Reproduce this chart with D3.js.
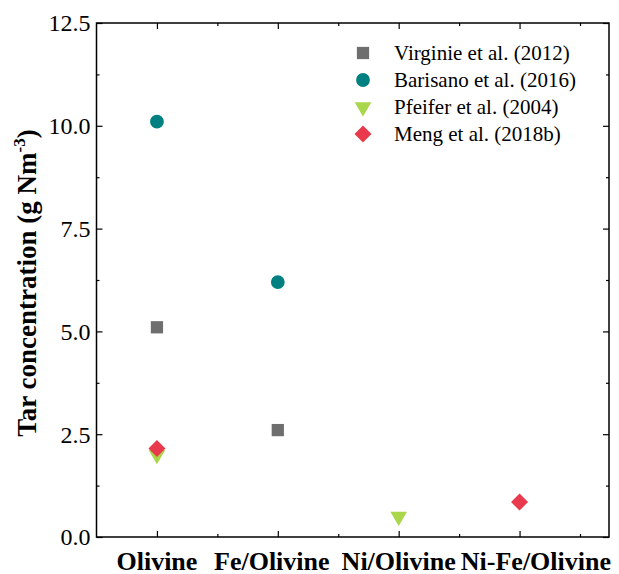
<!DOCTYPE html>
<html>
<head>
<meta charset="utf-8">
<script src="https://cdn.jsdelivr.net/npm/d3@7"></script>
<style>
  body { margin: 0; background: #fff; }
  svg { font-family: "Liberation Serif", "Times New Roman", serif; }
</style>
</head>
<body>
<svg id="chart" width="619" height="574"></svg>
<script>
// Catalysts along the x axis
const categories = ["Olivine", "Fe/Olivine", "Ni/Olivine", "Ni-Fe/Olivine"];

// Tar concentration (g Nm-3) by study; null where a catalyst was not tested
const virginie = [5.1, 2.6, null, null];
const barisano = [10.1, 6.2, null, null];
const pfeifer  = [2.0, null, 0.5, null];
const meng     = [2.15, null, null, 0.85];

const yTicks = [0, 2.5, 5.0, 7.5, 10.0, 12.5];

const series = [
  { name: "Virginie et al. (2012)", values: virginie, symbol: d3.symbolSquare, color: "#6e6e6e", size: 150, rotate: 0 },
  { name: "Barisano et al. (2016)", values: barisano, symbol: d3.symbolCircle, color: "#008080", size: 150, rotate: 0 },
  { name: "Pfeifer et al. (2004)",  values: pfeifer,  symbol: d3.symbolTriangle, color: "#a9d64a", size: 120, rotate: 180 },
  { name: "Meng et al. (2018b)",    values: meng,     symbol: d3.symbolSquare, color: "#e83a4c", size: 145, rotate: 45 }
];

const margin = { left: 96.5, right: 10, top: 23, bottom: 37 };
const W = 619, H = 574;
const svg = d3.select("#chart");

const x = d3.scaleLinear().domain([0.5, 4.74]).range([margin.left, W - margin.right]);
const y = d3.scaleLinear().domain([0, 12.5]).range([H - margin.bottom, margin.top]);

const g = svg.append("g");

// Plot frame
g.append("rect")
  .attr("x", x.range()[0]).attr("y", y.range()[1])
  .attr("width", x.range()[1] - x.range()[0])
  .attr("height", y.range()[0] - y.range()[1])
  .attr("fill", "none").attr("stroke", "#000").attr("stroke-width", 1.5);

const majorX = [1, 2, 3, 4];
const minorX = [1.5, 2.5, 3.5, 4.5];
const minorY = [1.25, 3.75, 6.25, 8.75, 11.25];

// Inward ticks on all four sides
function ticks(axisGen, transform, values, size) {
  const a = g.append("g").attr("transform", transform)
    .call(axisGen.tickValues(values).tickSize(size).tickFormat(""));
  a.select(".domain").remove();
  a.selectAll("line").attr("stroke", "#000").attr("stroke-width", 1.2);
  return a;
}
const bottomY = y(0), topY = y(12.5), leftX = x(0.5), rightX = x.range()[1];
ticks(d3.axisTop(x), `translate(0,${bottomY})`, majorX, 6);
ticks(d3.axisTop(x), `translate(0,${bottomY})`, minorX, 3);
ticks(d3.axisBottom(x), `translate(0,${topY})`, majorX, 6);
ticks(d3.axisBottom(x), `translate(0,${topY})`, minorX, 3);
ticks(d3.axisRight(y), `translate(${leftX},0)`, yTicks, 6);
ticks(d3.axisRight(y), `translate(${leftX},0)`, minorY, 3);
ticks(d3.axisLeft(y), `translate(${rightX},0)`, yTicks, 6);
ticks(d3.axisLeft(y), `translate(${rightX},0)`, minorY, 3);

// Y tick labels
g.selectAll("text.ytick").data(yTicks).join("text")
  .attr("class", "ytick")
  .attr("x", leftX - 6).attr("y", d => y(d))
  .attr("dy", "0.35em").attr("text-anchor", "end")
  .attr("font-size", 24).attr("fill", "#000")
  .text(d => d.toFixed(1));

// Category labels; the last one is right-aligned to the frame so it doesn't collide
const last = categories.length - 1;
g.selectAll("text.xtick").data(categories).join("text")
  .attr("class", "xtick")
  .attr("x", (d, i) => i === last ? rightX + 2 : x(i + 1) - (i === 1 ? 6 : 0))
  .attr("y", bottomY + 33)
  .attr("text-anchor", (d, i) => i === last ? "end" : "middle")
  .attr("font-size", 26).attr("font-weight", "bold").attr("fill", "#000")
  .text(d => d);

// Y axis title
const yt = g.append("text")
  .attr("transform", `translate(36,${(topY + bottomY) / 2 + 3}) rotate(-90)`)
  .attr("text-anchor", "middle")
  .attr("font-size", 27).attr("font-weight", "bold").attr("fill", "#000");
yt.append("tspan").text("Tar concentration (g Nm");
yt.append("tspan").attr("dy", -11).attr("font-size", 17).text("-3");
yt.append("tspan").attr("dy", 11).text(")");

// Markers
const sym = d3.symbol();
series.forEach(s => {
  g.append("g").selectAll("path")
    .data(s.values.map((v, i) => ({ v, i })).filter(d => d.v !== null))
    .join("path")
    .attr("d", sym.type(s.symbol).size(s.size)())
    .attr("transform", d => `translate(${x(d.i + 1)},${y(d.v)}) rotate(${s.rotate})`)
    .attr("fill", s.color);
});

// Legend
const leg = g.append("g");
series.forEach((s, i) => {
  const yy = 53 + i * 27;
  leg.append("path")
    .attr("d", sym.type(s.symbol).size(s.size)())
    .attr("transform", `translate(363,${yy}) rotate(${s.rotate})`)
    .attr("fill", s.color);
  leg.append("text")
    .attr("x", 394).attr("y", yy).attr("dy", "0.35em")
    .attr("font-size", 21).attr("fill", "#000")
    .text(s.name);
});
</script>
</body>
</html>
